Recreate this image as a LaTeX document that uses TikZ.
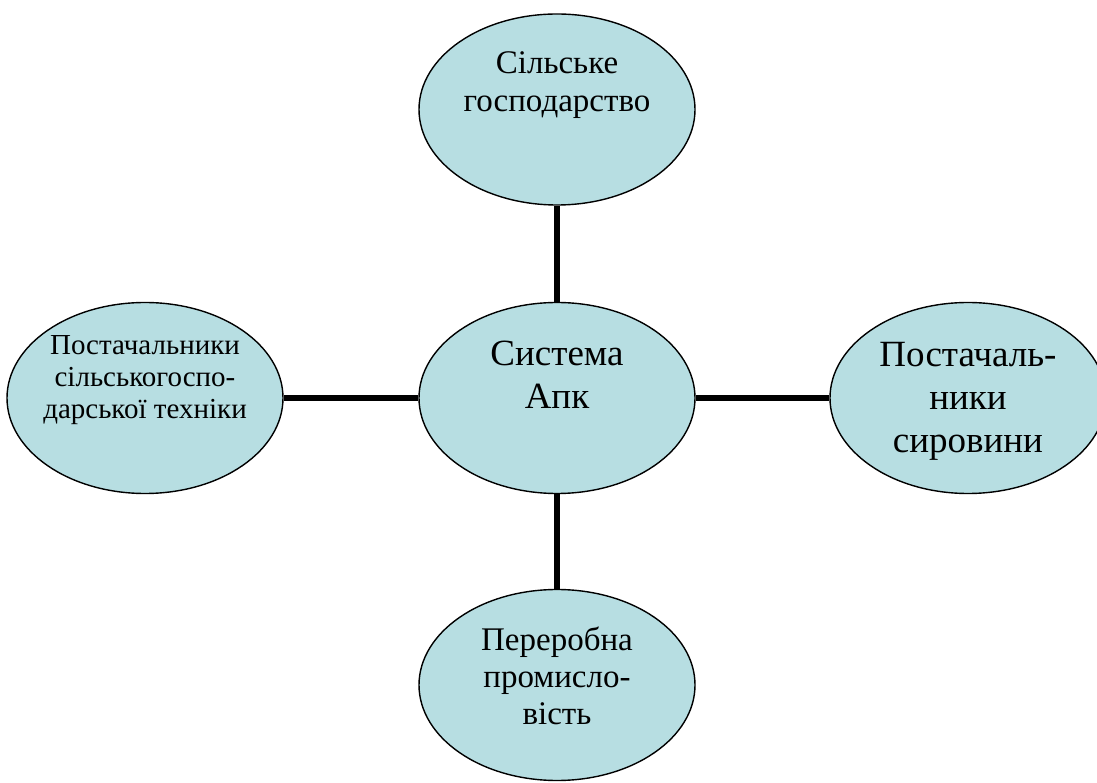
\documentclass[tikz,border=0pt]{standalone}
\usepackage{fontspec}
\setmainfont{Liberation Serif}
\usetikzlibrary{shapes.geometric}
\definecolor{bubblefill}{RGB}{183,222,226}
\begin{document}
\begin{tikzpicture}
	[x=1pt,y=1pt,
	bubble/.style={draw,ellipse,line width=1.4pt,fill=bubblefill,minimum width=276pt,minimum height=191pt,inner sep=0pt},
	caption/.style={align=center,inner sep=0pt},
	edge from parent/.style={draw,line width=6pt},
	sibling distance=0pt]
	\useasboundingbox (0,0) rectangle (1097,782);
	\node[bubble] (sys) at (557,384) {}
	child[grow=up,level distance=288.5pt]{
		node[bubble] (agro) {}
	}
	child[grow=right,level distance=411pt]{
		node[bubble] (raw) {}
	}
	child[grow=down,level distance=287pt]{
		node[bubble] (proc) {}
	}
	child[grow=left,level distance=412pt]{
		node[bubble] (tech) {}
	};
	\node[caption,font=\fontsize{37}{43}\selectfont] (systext) at ([yshift=23.5pt]sys.center) {Система\\Апк};
	\node[caption,font=\fontsize{33}{38}\selectfont] (agrotext) at ([yshift=24.5pt]agro.center) {Сільське\\господарство};
	\node[caption,font=\fontsize{37}{43}\selectfont] (rawtext) at ([yshift=-3pt]raw.center) {Постачаль-\\ники\\сировини};
	\node[caption,font=\fontsize{33}{37}\selectfont] (proctext) at ([yshift=9.5pt]proc.center) {Переробна\\промисло-\\вість};
	\node[caption,font=\fontsize{29}{32}\selectfont] (techtext) at ([yshift=18pt]tech.center) {Постачальники\\сільськогоспо-\\дарської техніки};
\end{tikzpicture}
\end{document}
